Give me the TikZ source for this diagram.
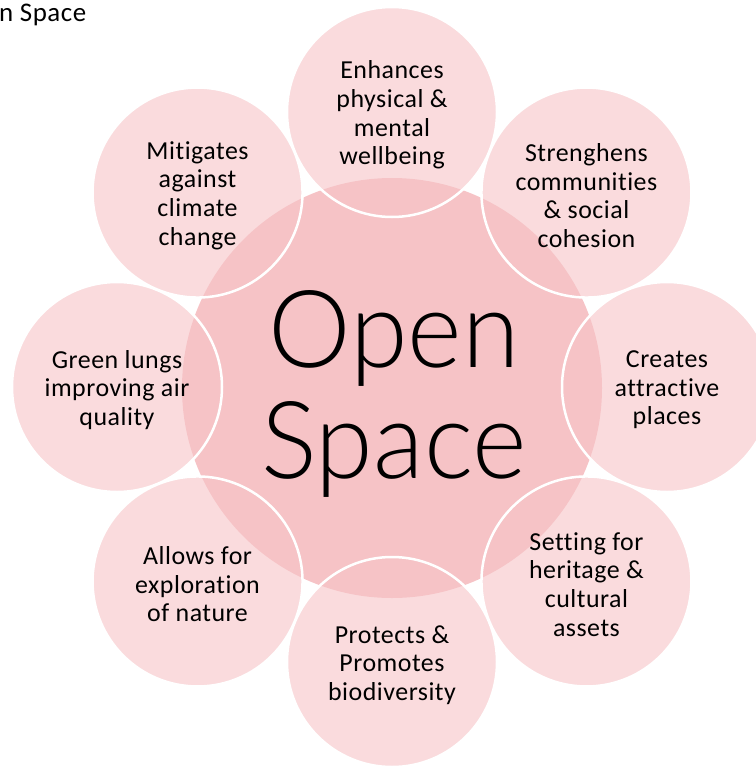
\documentclass[tikz,border=0pt]{standalone}
\usepackage{fontspec}
\usetikzlibrary{calc}
\setmainfont{Carlito}[LetterSpace=2, Ligatures=NoCommon]
\newfontfamily\lightfont{Lato Light}[FakeStretch=0.97]
\definecolor{petal}{HTML}{F6C3C6}
\begin{document}
\begin{tikzpicture}[x=1bp,y=-1bp,
  hub/.style={circle, minimum size=420bp, inner sep=0pt, fill=petal},
  petalbox/.style={circle, minimum size=210bp, inner sep=0pt,
    fill=petal, fill opacity=0.6, draw=white, draw opacity=1, line width=2.5bp},
  petaltext/.style={align=center, inner sep=0pt,
    font=\fontsize{26}{28.7}\selectfont},
  hubtext/.style={align=center, inner sep=0pt,
    font=\lightfont\fontsize{108}{112}\selectfont},
  caption/.style={inner sep=0pt, anchor=base west,
    font=\fontsize{27}{30}\selectfont}]
\useasboundingbox (0,0) rectangle (756,767);
\clip (0,0) rectangle (756,767);

% cropped caption
\node[caption] (cap) at (-1,21.7) {n Space};

% central disc
\node[hub] (core) at (392,388) {};

% ring of petals, centred on the disc, clockwise from the top
\coordinate (mid) at (392,387);
\foreach \i/\ang/\txt in {
  1/-90/{Enhances\\physical \&\\mental\\wellbeing},
  2/-45/{Strenghens\\communities\\\& social\\cohesion},
  3/0/{Creates\\attractive\\places},
  4/45/{Setting for\\heritage \&\\cultural\\assets},
  5/90/{Protects \&\\Promotes\\biodiversity},
  6/135/{Allows for\\exploration\\of nature},
  7/180/{Green lungs\\improving air\\quality},
  8/225/{Mitigates\\against\\climate\\change}}{
  \node[petalbox] (c\i) at ($(mid)+(\ang:275)$) {};
  \node[petaltext] (t\i) at ($(c\i)+(0,3)$) {\txt};
}

% title in the disc
\node[hubtext] (title) at (394,394) {Open\\Space};
\end{tikzpicture}
\end{document}
